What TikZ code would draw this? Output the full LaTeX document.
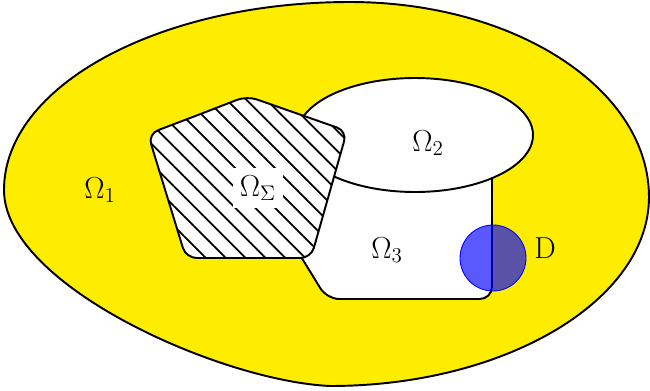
\documentclass[tikz,border=0pt]{standalone}
\usetikzlibrary{patterns.meta}
\definecolor{blobyellow}{RGB}{255,237,0}
\begin{document}
\begin{tikzpicture}[x=0.02cm,y=-0.02cm, line join=round,
  outline/.style={draw=black,line width=1.1pt},
  lbl/.style={font=\LARGE, inner sep=0pt}]
\useasboundingbox (0,0) rectangle (650,390);
% outer region Omega_1
\draw[outline, fill=blobyellow]
  (4,190) .. controls (4,86) and (159,2) .. (350,2)
  .. controls (515,2) and (649,89) .. (649,197)
  .. controls (649,300) and (506,386) .. (330,386)
  .. controls (220,381) and (4,285) .. (4,190) -- cycle;
% Omega_3
\draw[outline, fill=white, rounded corners=7pt]
  (400,120) -- (263,195) -- (327,299) -- (492,299) -- (492,120) -- cycle;
% Omega_2
\draw[outline, fill=white] (415,135) ellipse [x radius=2.36cm, y radius=1.14cm];
% Omega_Sigma
\draw[outline, rounded corners=6pt, preaction={fill=white},
  pattern={Lines[angle=-45,distance=8pt,line width=1pt]}]
  (198,115) -- (247,96) -- (347,131) -- (311,258) -- (186,258) -- (148,134) -- cycle;
% D
\draw[blue, fill=blue, fill opacity=0.65, line width=0.5pt] (493,258) circle [radius=0.66cm];
% labels
\node[lbl] (o1) at (100,190) {$\Omega_1$};
\node[lbl] (o2) at (428,143) {$\Omega_2$};
\node[lbl] (o3) at (387,250) {$\Omega_3$};
\node[lbl, fill=white, inner sep=4pt] (os) at (258,188) {$\Omega_\Sigma$};
\node[lbl] (d) at (545,248) {D};
\end{tikzpicture}
\end{document}
